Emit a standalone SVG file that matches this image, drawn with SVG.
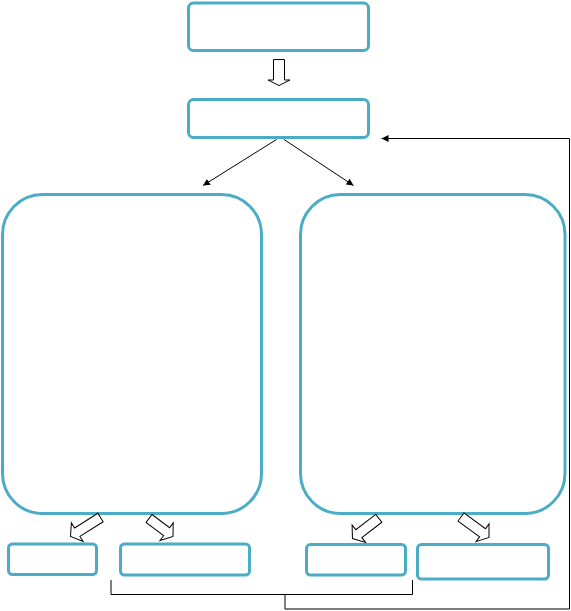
<svg xmlns="http://www.w3.org/2000/svg" width="571" height="611" viewBox="0 0 571 611">
<style>
.box{fill:#fff;stroke:#4BACC6;stroke-width:3}
.barrow{fill:#fff;stroke:#000;stroke-width:1;stroke-linejoin:miter}
.conn{fill:none;stroke:#000;stroke-width:1}
</style>
<defs>
<marker id="ah" viewBox="0 0 10 10" refX="10" refY="5" markerWidth="7" markerHeight="7" markerUnits="userSpaceOnUse" orient="auto">
<path d="M0,0 L10,5 L0,10 z" fill="#000"/>
</marker>
</defs>
<rect width="571" height="611" fill="#fff"/>
<g id="node-top"><rect class="box" x="188.5" y="3" width="180" height="47.5" rx="5"/></g>
<g id="node-second"><rect class="box" x="188.5" y="99.5" width="180" height="38" rx="5"/></g>
<g id="node-left-big"><rect class="box" x="2.5" y="194.5" width="259" height="319" rx="40"/></g>
<g id="node-right-big"><rect class="box" x="300.5" y="194.5" width="264.5" height="319" rx="40"/></g>
<g id="node-b1"><rect class="box" x="8.5" y="544" width="88" height="30.5" rx="4"/></g>
<g id="node-b2"><rect class="box" x="120.5" y="544" width="129" height="31" rx="4"/></g>
<g id="node-b3"><rect class="box" x="306.5" y="544.5" width="99" height="30.5" rx="4"/></g>
<g id="node-b4"><rect class="box" x="417.5" y="544.5" width="131" height="34.5" rx="4"/></g>
<g id="connectors">
<polygon class="barrow" points="273.5,59.5 284.5,59.5 284.5,80 290,80 279,85.5 268,80 273.5,80"/>
<polygon class="barrow" transform="translate(100.5,517.5) rotate(147.65)" points="0,-5 27.5,-5 27.5,-11 35.5,0 27.5,11 27.5,5 0,5"/>
<polygon class="barrow" transform="translate(149,518.5) rotate(36.87)" points="0,-5 22,-5 22,-11 30,0 22,11 22,5 0,5"/>
<polygon class="barrow" transform="translate(378.8,518.3) rotate(142.5)" points="0,-5 25.2,-5 25.2,-11 33.2,0 25.2,11 25.2,5 0,5"/>
<polygon class="barrow" transform="translate(461,517) rotate(36.2)" points="0,-5 26.7,-5 26.7,-11 34.7,0 26.7,11 26.7,5 0,5"/>
<line class="conn" x1="276.5" y1="139.5" x2="203" y2="185.5" stroke-width="0.8" marker-end="url(#ah)"/>
<line class="conn" x1="284" y1="139.5" x2="353.5" y2="185.5" marker-end="url(#ah)"/>
<polyline class="conn" points="111,580 111,594.5 412.5,594.5 412.5,580"/>
<polyline class="conn" points="285,594.5 285,609 569.5,609 569.5,138.5 381.5,138.5" marker-end="url(#ah)"/>
</g>
</svg>
